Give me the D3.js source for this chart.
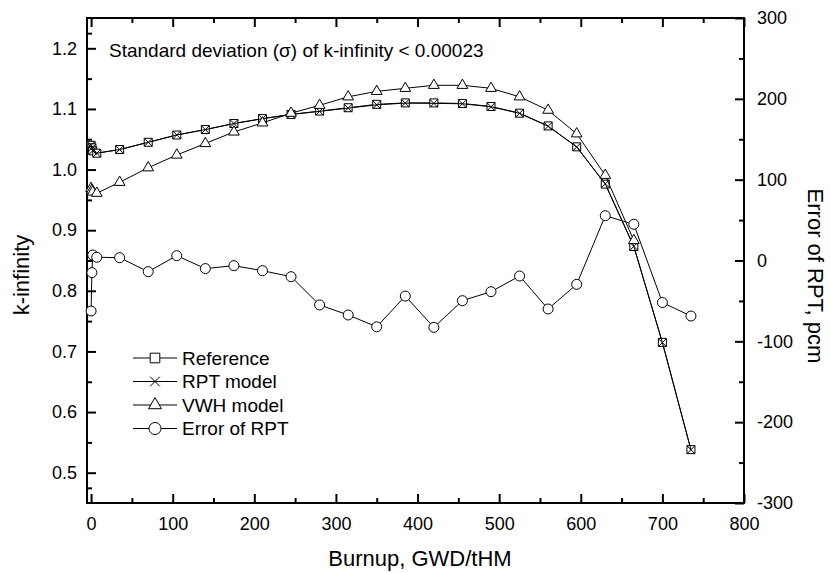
<!DOCTYPE html>
<html>
<head>
<meta charset="utf-8">
<script src="https://cdn.jsdelivr.net/npm/d3@7"></script>
<style>
  body { margin: 0; background: #fff; }
  svg text { font-family: "Liberation Sans", Arial, sans-serif; fill: #000; }
</style>
</head>
<body>
<div class="vis-kinf"></div>
<script>
// burnup steps, GWD/tHM
const burnup = [0, 1, 2, 7, 35, 70, 105, 140, 175, 210, 245, 280, 315, 350, 385, 420, 455, 490, 525, 560, 595, 630, 665, 700, 735];
const reference = [1.040, 1.036, 1.031, 1.027, 1.033, 1.045, 1.057, 1.066, 1.076, 1.084, 1.091, 1.0965, 1.102, 1.1076, 1.110, 1.110, 1.109, 1.104, 1.093, 1.072, 1.0375, 0.976, 0.873, 0.715, 0.538];
const rptModel = [1.0401, 1.0358, 1.0311, 1.0270, 1.0330, 1.0449, 1.0571, 1.0659, 1.0759, 1.0839, 1.0908, 1.0960, 1.1013, 1.1068, 1.1096, 1.1092, 1.1085, 1.1036, 1.0928, 1.0714, 1.0372, 0.9765, 0.8734, 0.7145, 0.5378];
// VWH model stops at 665
const vwhModel = [0.969, 0.966, 0.963, 0.961, 0.979, 1.003, 1.024, 1.043, 1.062, 1.077, 1.093, 1.106, 1.120, 1.129, 1.134, 1.139, 1.139, 1.134, 1.120, 1.098, 1.059, 0.9906, 0.883];
// error of RPT, pcm (right axis)
const errorRPT = [-62.5, -15, 6.8, 4, 3.5, -13.8, 6, -10, -6.4, -12.6, -20, -55, -67.4, -82, -44, -82.7, -49.7, -38.6, -19.2, -60, -29.5, 55.4, 44.8, -52, -68.7];

const xTicks = [0, 100, 200, 300, 400, 500, 600, 700, 800];
const yLeftTicks = [0.5, 0.6, 0.7, 0.8, 0.9, 1.0, 1.1, 1.2];
const yRightTicks = [-300, -200, -100, 0, 100, 200, 300];
const legendNames = ["Reference", "RPT model", "VWH model", "Error of RPT"];

const W = 830, H = 573;
const margin = {top: 18, right: 86, bottom: 70, left: 87};
const width = W - margin.left - margin.right;
const height = H - margin.top - margin.bottom;

let svg = d3.select('.vis-kinf')
    .append("svg")
    .attr("width", W)
    .attr("height", H)
    .append("g")
    .attr("transform", "translate(" + margin.left + "," + margin.top + ")");

let x = d3.scaleLinear().domain([-5, 800]).range([0, width]);
let yL = d3.scaleLinear().domain([0.45, 1.25]).range([height, 0]);
let yR = d3.scaleLinear().domain([-300, 300]).range([height, 0]);

const minor = (ticks) => ticks.slice(0, -1).map((t, i) => (t + ticks[i + 1]) / 2);

function styleAxis(g) {
    g.select(".domain").remove();
    g.selectAll(".tick line").attr("stroke", "#000").attr("stroke-width", 2);
    g.selectAll(".tick text").attr("font-size", 18);
}

// bottom
svg.append("g").attr("transform", `translate(0,${height})`)
    .call(d3.axisBottom(x).tickValues(xTicks).tickSize(-9).tickPadding(14).tickFormat(d => String(d)))
    .call(styleAxis);
svg.append("g").attr("transform", `translate(0,${height})`)
    .call(d3.axisBottom(x).tickValues(minor(xTicks)).tickSize(-5).tickFormat(""))
    .call(styleAxis);
// top
svg.append("g")
    .call(d3.axisTop(x).tickValues(xTicks).tickSize(-9).tickFormat(""))
    .call(styleAxis);
svg.append("g")
    .call(d3.axisTop(x).tickValues(minor(xTicks)).tickSize(-5).tickFormat(""))
    .call(styleAxis);
// left
svg.append("g")
    .call(d3.axisLeft(yL).tickValues(yLeftTicks).tickSize(-9).tickPadding(10).tickFormat(d => d.toFixed(1)))
    .call(styleAxis);
svg.append("g")
    .call(d3.axisLeft(yL).tickValues(minor([0.45].concat(yLeftTicks, [1.25]))).tickSize(-5).tickFormat(""))
    .call(styleAxis);
// right
svg.append("g").attr("transform", `translate(${width},0)`)
    .call(d3.axisRight(yR).tickValues(yRightTicks).tickSize(-9).tickPadding(13).tickFormat(d => String(d)))
    .call(styleAxis);
svg.append("g").attr("transform", `translate(${width},0)`)
    .call(d3.axisRight(yR).tickValues(minor(yRightTicks)).tickSize(-5).tickFormat(""))
    .call(styleAxis);

// frame
svg.append("rect")
    .attr("width", width).attr("height", height)
    .attr("fill", "none").attr("stroke", "#000").attr("stroke-width", 2);

// axis titles
svg.append("text")
    .attr("x", 420 - margin.left).attr("y", 566 - margin.top)
    .attr("text-anchor", "middle").attr("font-size", 22)
    .text("Burnup, GWD/tHM");
svg.append("text")
    .attr("transform", `translate(${29 - margin.left},${275 - margin.top}) rotate(-90)`)
    .attr("text-anchor", "middle").attr("font-size", 22)
    .text("k-infinity");
svg.append("text")
    .attr("transform", `translate(${808 - margin.left},${276 - margin.top}) rotate(90)`)
    .attr("text-anchor", "middle").attr("font-size", 22)
    .text("Error of RPT, pcm");

svg.append("text")
    .attr("x", 109 - margin.left).attr("y", 57 - margin.top)
    .attr("font-size", 19)
    .text("Standard deviation (\u03c3) of k-infinity < 0.00023");

// markers
function drawMarker(g, kind, cx, cy, k) {
    k = k || 1;
    if (kind === "cross") {
        const s = 4 * k;
        g.append("path")
            .attr("d", `M${cx - s},${cy - s}L${cx + s},${cy + s}M${cx - s},${cy + s}L${cx + s},${cy - s}`)
            .attr("stroke", "#000").attr("stroke-width", 1).attr("fill", "none");
    } else {
        const sizes = {square: 64, triangle: 50, circle: Math.PI * 25};
        const types = {square: d3.symbolSquare, triangle: d3.symbolTriangle, circle: d3.symbolCircle};
        g.append("path")
            .attr("transform", `translate(${cx},${cy})`)
            .attr("d", d3.symbol().type(types[kind]).size(sizes[kind] * k * k)())
            .attr("fill", "#fff").attr("stroke", "#000").attr("stroke-width", 1);
    }
}

const series = [
    {values: reference, scale: yL, kind: "square"},
    {values: rptModel, scale: yL, kind: "cross"},
    {values: vwhModel, scale: yL, kind: "triangle"},
    {values: errorRPT, scale: yR, kind: "circle"}
];

let content = svg.append("g").attr("class", "content");
series.forEach(s => {
    let pts = s.values.map((v, i) => [burnup[i], v]);
    content.append("path")
        .datum(pts)
        .attr("fill", "none").attr("stroke", "#000").attr("stroke-width", 1)
        .attr("d", d3.line().x(d => x(d[0])).y(d => s.scale(d[1])));
    let mg = content.append("g");
    pts.forEach(d => drawMarker(mg, s.kind, x(d[0]), s.scale(d[1])));
});

// legend
let legend = svg.append("g");
legendNames.forEach((name, i) => {
    const cy = 358 - margin.top + i * 23.5;
    legend.append("line")
        .attr("x1", 133 - margin.left).attr("x2", 177 - margin.left)
        .attr("y1", cy).attr("y2", cy)
        .attr("stroke", "#000").attr("stroke-width", 1);
    drawMarker(legend, series[i].kind, 155 - margin.left, cy, 1.2);
    legend.append("text")
        .attr("x", 182 - margin.left).attr("y", cy)
        .attr("dy", "0.36em").attr("font-size", 19)
        .text(name);
});
</script>
</body>
</html>
